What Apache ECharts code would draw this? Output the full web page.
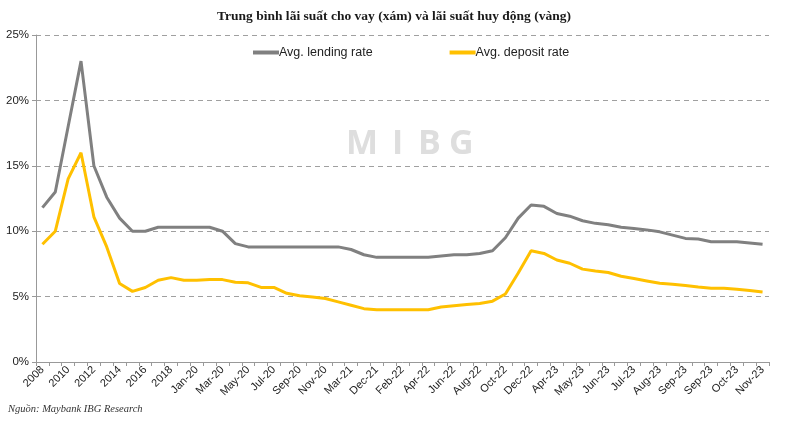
<!DOCTYPE html>
<html>
<head>
<meta charset="utf-8">
<script src="https://cdn.jsdelivr.net/npm/echarts@6/dist/echarts.min.js"></script>
<style>html,body{margin:0;padding:0;background:#fff}#c{width:788px;height:423px}</style>
</head>
<body>
<div id="c"></div>
<script>
const categories = ['2008','2009','2010','2011','2012','2013','2014','2015','2016','2017','2018','2019',
 'Jan-20','Feb-20','Mar-20','Apr-20','May-20','Jun-20','Jul-20','Aug-20','Sep-20','Oct-20','Nov-20','Dec-20',
 'Mar-21','Jun-21','Dec-21','Jan-22','Feb-22','Mar-22','Apr-22','May-22','Jun-22','Jul-22','Aug-22','Sep-22',
 'Oct-22','Nov-22','Dec-22','Feb-23','Apr-23','Apr-23b','May-23','May-23b','Jun-23','Jun-23b','Jul-23','Jul-23b',
 'Aug-23','Aug-23b','Sep-23','Sep-23b','Sep-23c','Oct-23a','Oct-23','Nov-23a','Nov-23'];
const tickLabels = categories.map(c => c.replace(/[abc]$/, ''));
const lendingRate = [11.8,13,18,23,15,12.6,11,10,10,10.3,10.3,10.3,
 10.3,10.3,10,9.05,8.8,8.8,8.8,8.8,8.8,8.8,8.8,8.8,
 8.6,8.2,8,8,8,8,8,8.1,8.2,8.2,8.3,8.5,
 9.5,11,12,11.9,11.35,11.15,10.8,10.6,10.5,10.3,10.2,10.1,
 9.95,9.7,9.45,9.4,9.2,9.2,9.2,9.1,9.0];
const depositRate = [9,10,14,16,11.1,8.8,6,5.4,5.7,6.25,6.45,6.25,
 6.25,6.3,6.3,6.1,6.05,5.7,5.7,5.25,5.07,4.97,4.85,4.6,
 4.34,4.08,4,4,4,4,4,4.2,4.3,4.4,4.47,4.65,
 5.2,6.8,8.5,8.3,7.8,7.55,7.1,6.96,6.84,6.56,6.38,6.2,
 6.02,5.95,5.85,5.74,5.64,5.64,5.56,5.46,5.36];
const yTicks = [0,5,10,15,20,25];
const watermark = ['M','I','B','G'];
const watermarkX = [346,392,418,449];

const chart = echarts.init(document.getElementById('c'), null, {renderer:'canvas'});
const wm = watermark.map((t,i)=>({type:'text',left:watermarkX[i],top:127,
  style:{text:t,fontFamily:'Open Sans',fontWeight:'bold',fontSize:34,fill:'#dedede'}}));
chart.setOption({
  animation:false,
  backgroundColor:'#fff',
  title:{text:'Trung bình lãi suất cho vay (xám) và lãi suất huy động (vàng)',left:'center',top:5,
    textStyle:{fontFamily:'Liberation Serif',fontWeight:'bold',fontSize:13.5,color:'#1a1a1a'}},
  legend:{top:41,left:248,itemGap:77,itemWidth:26,itemHeight:4,icon:'rect',
    textStyle:{fontFamily:'Liberation Sans',fontSize:12.5,color:'#222',padding:[0,0,0,-5]},
    data:['Avg. lending rate','Avg. deposit rate']},
  grid:{left:36,right:19,top:35,bottom:61,containLabel:false},
  graphic:wm.concat([
    {type:'text',left:8,top:404,style:{text:'Nguồn: Maybank IBG Research',fontFamily:'Liberation Serif',fontStyle:'italic',fontSize:10.5,fill:'#333'}}
  ]),
  xAxis:{type:'category',data:categories,boundaryGap:true,
    axisLine:{lineStyle:{color:'#999',width:1}},
    axisTick:{show:true,interval:0,length:4,lineStyle:{color:'#999'}},
    axisLabel:{interval:1,rotate:45,fontFamily:'Liberation Sans',fontSize:11,color:'#222',margin:6,
      formatter:(v,i)=>tickLabels[i]}},
  yAxis:{type:'value',min:yTicks[0],max:yTicks[yTicks.length-1],interval:5,
    axisLine:{show:true,lineStyle:{color:'#999'}},
    axisTick:{show:true,length:4,lineStyle:{color:'#999'}},
    axisLabel:{formatter:'{value}%',fontFamily:'Liberation Sans',fontSize:11.5,color:'#222',margin:7},
    splitLine:{show:true,lineStyle:{type:[5,4],color:'#a0a0a0',width:1}}},
  series:[
    {name:'Avg. lending rate',type:'line',data:lendingRate,symbol:'none',color:'#808080',
      lineStyle:{width:3,color:'#808080'},z:3},
    {name:'Avg. deposit rate',type:'line',data:depositRate,symbol:'none',color:'#FFC000',
      lineStyle:{width:3,color:'#FFC000'},z:4}
  ]
});
</script>
</body>
</html>
